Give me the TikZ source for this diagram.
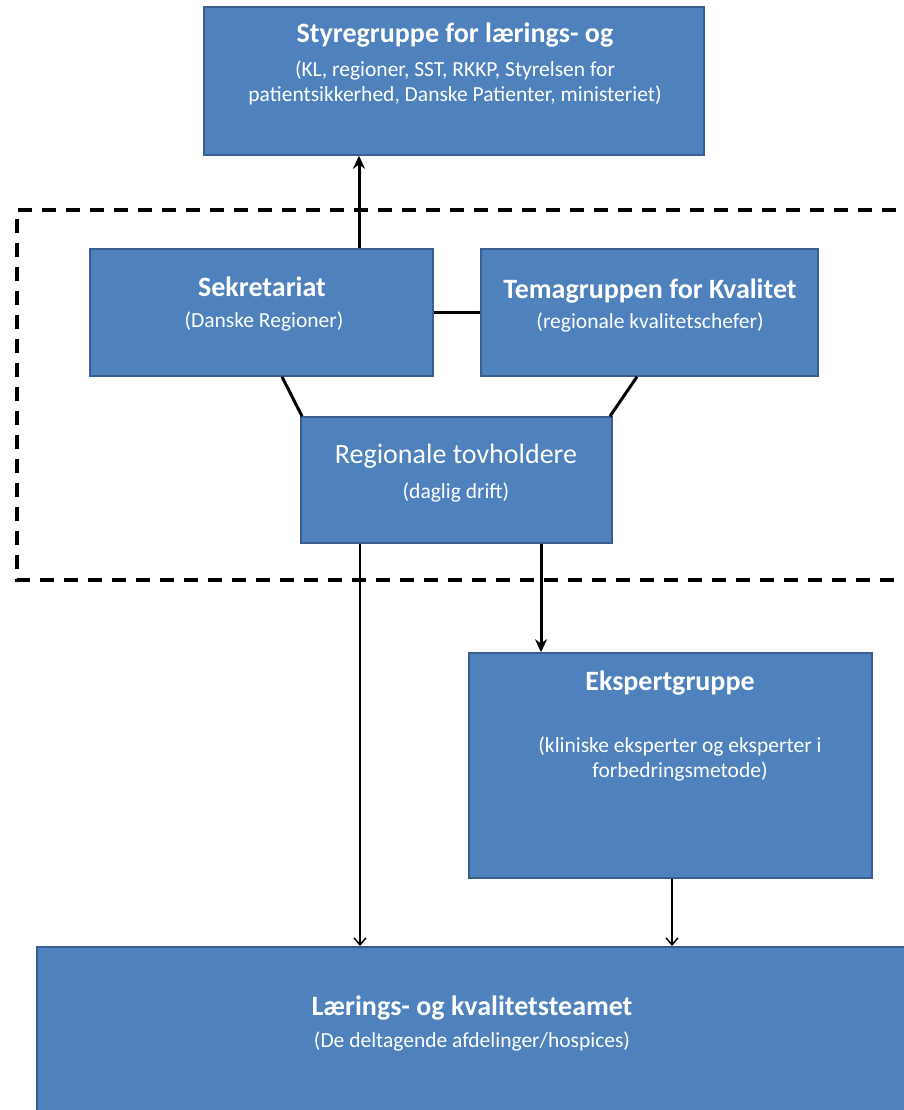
\documentclass[tikz,border=0pt]{standalone}
\usepackage{fontspec}
\setmainfont{Carlito}
\usetikzlibrary{arrows.meta}
\definecolor{boxblue}{HTML}{4F81BD}
\definecolor{boxedge}{HTML}{3A5F8E}
\tikzset{
  box/.style={draw=boxedge, line width=1.5pt, fill=boxblue, inner sep=0pt},
  ttl/.style={text=white, font=\bfseries\fontsize{28}{32}\selectfont, inner sep=0pt},
  ttlreg/.style={text=white, font=\fontsize{28}{32}\selectfont, inner sep=0pt},
  sub/.style={text=white, font=\fontsize{21.5}{24.5}\selectfont, inner sep=0pt, align=center},
  thick conn/.style={line width=3pt, black},
  thin conn/.style={line width=1.5pt, black},
  bigarrow/.style={thick conn, -{Stealth[length=13pt,width=12pt]}},
  smallarrow/.style={thin conn, -{Straight Barb[length=7pt,width=12pt]}},
  group/.style={line width=3.5pt, dash pattern=on 14pt off 10pt}
}
\begin{document}
\begin{tikzpicture}[x=1pt,y=-1pt]
\useasboundingbox (0,0) rectangle (904,1110);
% dashed group
\draw[group] (920,210) -- (17,210) -- (17,580) -- (920,580);
% boxes
\node[box, minimum width=500, minimum height=148] (styr) at (454,81) {};
\node[box, minimum width=343, minimum height=127] (sek) at (261.5,312.5) {};
\node[box, minimum width=337, minimum height=127] (tema) at (649.5,312.5) {};
\node[box, minimum width=311, minimum height=126] (reg) at (456.5,480) {};
\node[box, minimum width=403, minimum height=225] (eksp) at (670.5,765.5) {};
\node[box, anchor=north west, minimum width=900, minimum height=190] (laer) at (36,946) {};
% texts
\node[ttl] (styrT) at (455,35) {Styregruppe for lærings- og};
\node[sub] (styrS) at (455,83) {(KL, regioner, SST, RKKP, Styrelsen for\\patientsikkerhed, Danske Patienter, ministeriet)};
\node[ttl] (sekT) at (262,287) {Sekretariat};
\node[sub] (sekS) at (264,321) {(Danske Regioner)};
\node[ttl] (temaT) at (650,291) {Temagruppen for Kvalitet};
\node[sub] (temaS) at (650,322) {(regionale kvalitetschefer)};
\node[ttlreg] (regT) at (456,456) {Regionale tovholdere};
\node[sub] (regS) at (456,492) {(daglig drift)};
\node[ttl] (ekspT) at (670,683) {Ekspertgruppe};
\node[sub] (ekspS) at (680,759) {(kliniske eksperter og eksperter i\\forbedringsmetode)};
\node[ttl] (laerT) at (472,1008) {Lærings- og kvalitetsteamet};
\node[sub] (laerS) at (472,1041) {(De deltagende afdelinger/hospices)};
% connectors
\draw[bigarrow] (sek.north -| 359,0) -- (styr.south -| 359,0);
\draw[thick conn] (sek.east) -- (tema.west);
\draw[thick conn] (sek.south -| 282,0) -- (reg.north -| 302,0);
\draw[thick conn] (tema.south -| 637,0) -- (reg.north -| 610,0);
\draw[bigarrow] (reg.south -| 541,0) -- (eksp.north -| 541,0);
\draw[smallarrow] (reg.south -| 360,0) -- (laer.north -| 360,0);
\draw[smallarrow] (eksp.south -| 672,0) -- (laer.north -| 672,0);
\end{tikzpicture}
\end{document}
